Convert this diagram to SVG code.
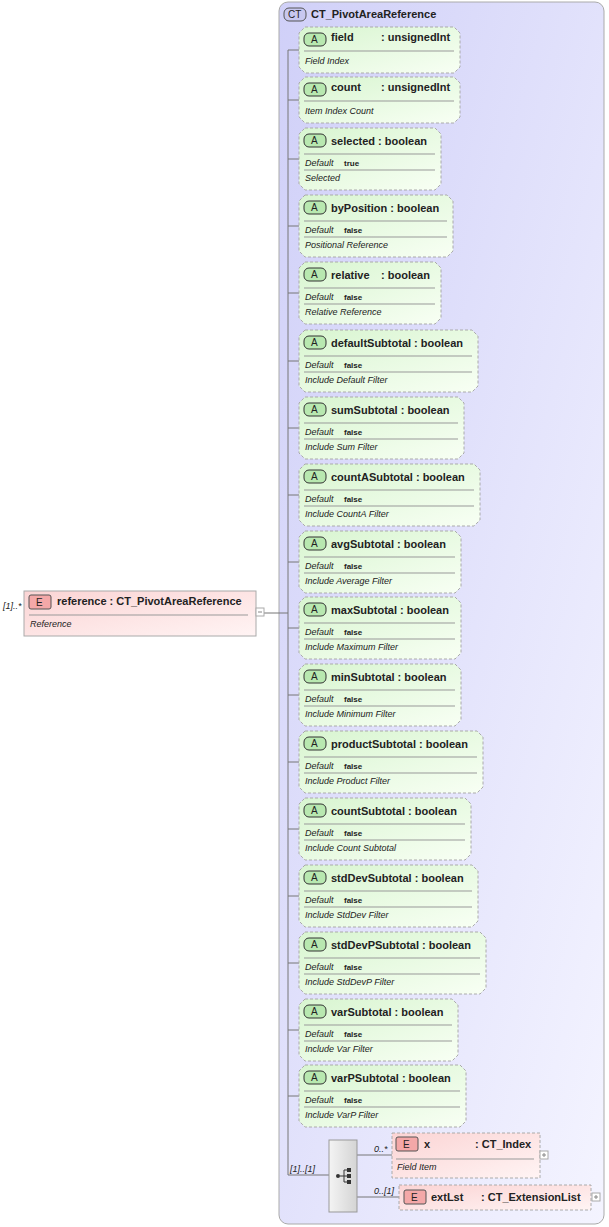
<svg xmlns="http://www.w3.org/2000/svg" width="609" height="1227" viewBox="0 0 609 1227">
<defs>
<linearGradient id="ga" x1="0" y1="0" x2="1" y2="1"><stop offset="0" stop-color="#d8f5d0"/><stop offset="1" stop-color="#f8fff4"/></linearGradient>
<linearGradient id="ge" x1="0" y1="0" x2="1" y2="1"><stop offset="0" stop-color="#fbd4d4"/><stop offset="1" stop-color="#fff4f4"/></linearGradient>
<linearGradient id="gc" x1="0" y1="0" x2="1" y2="1"><stop offset="0" stop-color="#d0d0f8"/><stop offset="1" stop-color="#f4f4ff"/></linearGradient>
<linearGradient id="gs" x1="0" y1="0" x2="1" y2="0"><stop offset="0" stop-color="#f4f4f4"/><stop offset="1" stop-color="#d4d4d4"/></linearGradient>
<style>
text{font-family:"Liberation Sans",Arial,sans-serif;fill:#222}
.t{font-size:11px;font-weight:bold}
.d{font-size:9px;font-style:italic}
.v{font-size:8px;font-weight:bold}
.at{fill:url(#ga);stroke:#aaa;stroke-dasharray:3,2}
.el{fill:url(#ge);stroke:#aaa}
.eld{fill:url(#ge);stroke:#aaa;stroke-dasharray:3,2}
.sep{stroke:#999}
.ab{fill:#b8e8b0;stroke:#333}
.eb{fill:#f4a8a8;stroke:#555}
.ln{stroke:#777;fill:none}
.pl{fill:#fff;stroke:#aaa}
</style>
</defs>
<g id="ct">
<rect x="279" y="2" width="325" height="1222" rx="9" fill="url(#gc)" stroke="#aaa"/>
<rect x="284" y="8" width="22" height="13" rx="5" fill="#c8c8f0" stroke="#555"/>
<text x="288" y="18" style="font-size:10px">CT</text>
<text x="311" y="18" class="t">CT_PivotAreaReference</text>
</g>
<g id="connectors">
<line class="ln" x1="288" y1="50" x2="288" y2="1175"/>
<line class="ln" x1="263" y1="613" x2="288" y2="613"/>
<line class="ln" x1="288" y1="50" x2="299" y2="50"/>
<line class="ln" x1="288" y1="100" x2="299" y2="100"/>
<line class="ln" x1="288" y1="159" x2="299" y2="159"/>
<line class="ln" x1="288" y1="226" x2="299" y2="226"/>
<line class="ln" x1="288" y1="293" x2="299" y2="293"/>
<line class="ln" x1="288" y1="361" x2="299" y2="361"/>
<line class="ln" x1="288" y1="428" x2="299" y2="428"/>
<line class="ln" x1="288" y1="495" x2="299" y2="495"/>
<line class="ln" x1="288" y1="562" x2="299" y2="562"/>
<line class="ln" x1="288" y1="628" x2="299" y2="628"/>
<line class="ln" x1="288" y1="695" x2="299" y2="695"/>
<line class="ln" x1="288" y1="762" x2="299" y2="762"/>
<line class="ln" x1="288" y1="829" x2="299" y2="829"/>
<line class="ln" x1="288" y1="896" x2="299" y2="896"/>
<line class="ln" x1="288" y1="963" x2="299" y2="963"/>
<line class="ln" x1="288" y1="1030" x2="299" y2="1030"/>
<line class="ln" x1="288" y1="1096" x2="299" y2="1096"/>
<line class="ln" x1="288" y1="1175" x2="329" y2="1175"/>
<polyline class="ln" points="357,1155 374,1155 392,1155"/>
<polyline class="ln" points="357,1197 399,1197"/>
<text x="290" y="1172" class="d">[1]..[1]</text>
<text x="374" y="1152" class="d">0..*</text>
<text x="374" y="1194" class="d">0..[1]</text>
</g>
<g id="reference">
<text x="3" y="609" class="d">[1]..*</text>
<rect class="el" x="24" y="591" width="232" height="45"/>
<rect class="eb" x="29" y="595" width="22" height="14" rx="2"/>
<text x="36" y="606" style="font-size:10px">E</text>
<text x="57" y="605" class="t">reference : CT_PivotAreaReference</text>
<line class="sep" x1="29" y1="615" x2="248" y2="615"/>
<text x="30" y="627" class="d">Reference</text>
<rect class="pl" x="256" y="608" width="8" height="8"/>
<line x1="258" y1="612" x2="262" y2="612" stroke="#888"/>
</g>
<g id="field">
<path class="at" d="M305,27H454L460,33V67L454,73H305L299,67V33Z"/>
<rect class="ab" x="304" y="33" width="22" height="13" rx="5"/><text x="311" y="43" style="font-size:10px">A</text>
<text x="331" y="41" class="t">field</text><text x="381" y="41" class="t">: unsignedInt</text>
<line class="sep" x1="304" y1="51" x2="454" y2="51"/>
<text x="305" y="64" class="d">Field Index</text>
</g>
<g id="count">
<path class="at" d="M305,77H454L460,83V117L454,123H305L299,117V83Z"/>
<rect class="ab" x="304" y="83" width="22" height="13" rx="5"/><text x="311" y="93" style="font-size:10px">A</text>
<text x="331" y="91" class="t">count</text><text x="381" y="91" class="t">: unsignedInt</text>
<line class="sep" x1="304" y1="101" x2="454" y2="101"/>
<text x="305" y="114" class="d">Item Index Count</text>
</g>
<g id="selected">
<path class="at" d="M305,128H435L441,134V184L435,190H305L299,184V134Z"/>
<rect class="ab" x="304" y="134" width="22" height="13" rx="5"/><text x="311" y="144" style="font-size:10px">A</text>
<text x="331" y="145" class="t">selected : boolean</text>
<line class="sep" x1="304" y1="154" x2="435" y2="154"/>
<text x="305" y="166" class="d">Default</text><text x="344" y="166" class="v">true</text>
<line class="sep" x1="304" y1="170" x2="435" y2="170"/>
<text x="305" y="181" class="d">Selected</text>
</g>
<g id="byPosition">
<path class="at" d="M305,195H447L453,201V251L447,257H305L299,251V201Z"/>
<rect class="ab" x="304" y="201" width="22" height="13" rx="5"/><text x="311" y="211" style="font-size:10px">A</text>
<text x="331" y="212" class="t">byPosition : boolean</text>
<line class="sep" x1="304" y1="221" x2="447" y2="221"/>
<text x="305" y="233" class="d">Default</text><text x="344" y="233" class="v">false</text>
<line class="sep" x1="304" y1="237" x2="447" y2="237"/>
<text x="305" y="248" class="d">Positional Reference</text>
</g>
<g id="relative">
<path class="at" d="M305,262H435L441,268V318L435,324H305L299,318V268Z"/>
<rect class="ab" x="304" y="268" width="22" height="13" rx="5"/><text x="311" y="278" style="font-size:10px">A</text>
<text x="331" y="279" class="t">relative</text><text x="381" y="279" class="t">: boolean</text>
<line class="sep" x1="304" y1="288" x2="435" y2="288"/>
<text x="305" y="300" class="d">Default</text><text x="344" y="300" class="v">false</text>
<line class="sep" x1="304" y1="304" x2="435" y2="304"/>
<text x="305" y="315" class="d">Relative Reference</text>
</g>
<g id="defaultSubtotal">
<path class="at" d="M305,330H472L478,336V386L472,392H305L299,386V336Z"/>
<rect class="ab" x="304" y="336" width="22" height="13" rx="5"/><text x="311" y="346" style="font-size:10px">A</text>
<text x="331" y="347" class="t">defaultSubtotal : boolean</text>
<line class="sep" x1="304" y1="356" x2="472" y2="356"/>
<text x="305" y="368" class="d">Default</text><text x="344" y="368" class="v">false</text>
<line class="sep" x1="304" y1="372" x2="472" y2="372"/>
<text x="305" y="383" class="d">Include Default Filter</text>
</g>
<g id="sumSubtotal">
<path class="at" d="M305,397H458L464,403V453L458,459H305L299,453V403Z"/>
<rect class="ab" x="304" y="403" width="22" height="13" rx="5"/><text x="311" y="413" style="font-size:10px">A</text>
<text x="331" y="414" class="t">sumSubtotal : boolean</text>
<line class="sep" x1="304" y1="423" x2="458" y2="423"/>
<text x="305" y="435" class="d">Default</text><text x="344" y="435" class="v">false</text>
<line class="sep" x1="304" y1="439" x2="458" y2="439"/>
<text x="305" y="450" class="d">Include Sum Filter</text>
</g>
<g id="countASubtotal">
<path class="at" d="M305,464H474L480,470V520L474,526H305L299,520V470Z"/>
<rect class="ab" x="304" y="470" width="22" height="13" rx="5"/><text x="311" y="480" style="font-size:10px">A</text>
<text x="331" y="481" class="t">countASubtotal : boolean</text>
<line class="sep" x1="304" y1="490" x2="474" y2="490"/>
<text x="305" y="502" class="d">Default</text><text x="344" y="502" class="v">false</text>
<line class="sep" x1="304" y1="506" x2="474" y2="506"/>
<text x="305" y="517" class="d">Include CountA Filter</text>
</g>
<g id="avgSubtotal">
<path class="at" d="M305,531H455L461,537V587L455,593H305L299,587V537Z"/>
<rect class="ab" x="304" y="537" width="22" height="13" rx="5"/><text x="311" y="547" style="font-size:10px">A</text>
<text x="331" y="548" class="t">avgSubtotal : boolean</text>
<line class="sep" x1="304" y1="557" x2="455" y2="557"/>
<text x="305" y="569" class="d">Default</text><text x="344" y="569" class="v">false</text>
<line class="sep" x1="304" y1="573" x2="455" y2="573"/>
<text x="305" y="584" class="d">Include Average Filter</text>
</g>
<g id="maxSubtotal">
<path class="at" d="M305,597H455L461,603V653L455,659H305L299,653V603Z"/>
<rect class="ab" x="304" y="603" width="22" height="13" rx="5"/><text x="311" y="613" style="font-size:10px">A</text>
<text x="331" y="614" class="t">maxSubtotal : boolean</text>
<line class="sep" x1="304" y1="623" x2="455" y2="623"/>
<text x="305" y="635" class="d">Default</text><text x="344" y="635" class="v">false</text>
<line class="sep" x1="304" y1="639" x2="455" y2="639"/>
<text x="305" y="650" class="d">Include Maximum Filter</text>
</g>
<g id="minSubtotal">
<path class="at" d="M305,664H455L461,670V720L455,726H305L299,720V670Z"/>
<rect class="ab" x="304" y="670" width="22" height="13" rx="5"/><text x="311" y="680" style="font-size:10px">A</text>
<text x="331" y="681" class="t">minSubtotal : boolean</text>
<line class="sep" x1="304" y1="690" x2="455" y2="690"/>
<text x="305" y="702" class="d">Default</text><text x="344" y="702" class="v">false</text>
<line class="sep" x1="304" y1="706" x2="455" y2="706"/>
<text x="305" y="717" class="d">Include Minimum Filter</text>
</g>
<g id="productSubtotal">
<path class="at" d="M305,731H477L483,737V787L477,793H305L299,787V737Z"/>
<rect class="ab" x="304" y="737" width="22" height="13" rx="5"/><text x="311" y="747" style="font-size:10px">A</text>
<text x="331" y="748" class="t">productSubtotal : boolean</text>
<line class="sep" x1="304" y1="757" x2="477" y2="757"/>
<text x="305" y="769" class="d">Default</text><text x="344" y="769" class="v">false</text>
<line class="sep" x1="304" y1="773" x2="477" y2="773"/>
<text x="305" y="784" class="d">Include Product Filter</text>
</g>
<g id="countSubtotal">
<path class="at" d="M305,798H465L471,804V854L465,860H305L299,854V804Z"/>
<rect class="ab" x="304" y="804" width="22" height="13" rx="5"/><text x="311" y="814" style="font-size:10px">A</text>
<text x="331" y="815" class="t">countSubtotal : boolean</text>
<line class="sep" x1="304" y1="824" x2="465" y2="824"/>
<text x="305" y="836" class="d">Default</text><text x="344" y="836" class="v">false</text>
<line class="sep" x1="304" y1="840" x2="465" y2="840"/>
<text x="305" y="851" class="d">Include Count Subtotal</text>
</g>
<g id="stdDevSubtotal">
<path class="at" d="M305,865H472L478,871V921L472,927H305L299,921V871Z"/>
<rect class="ab" x="304" y="871" width="22" height="13" rx="5"/><text x="311" y="881" style="font-size:10px">A</text>
<text x="331" y="882" class="t">stdDevSubtotal : boolean</text>
<line class="sep" x1="304" y1="891" x2="472" y2="891"/>
<text x="305" y="903" class="d">Default</text><text x="344" y="903" class="v">false</text>
<line class="sep" x1="304" y1="907" x2="472" y2="907"/>
<text x="305" y="918" class="d">Include StdDev Filter</text>
</g>
<g id="stdDevPSubtotal">
<path class="at" d="M305,932H480L486,938V988L480,994H305L299,988V938Z"/>
<rect class="ab" x="304" y="938" width="22" height="13" rx="5"/><text x="311" y="948" style="font-size:10px">A</text>
<text x="331" y="949" class="t">stdDevPSubtotal : boolean</text>
<line class="sep" x1="304" y1="958" x2="480" y2="958"/>
<text x="305" y="970" class="d">Default</text><text x="344" y="970" class="v">false</text>
<line class="sep" x1="304" y1="974" x2="480" y2="974"/>
<text x="305" y="985" class="d">Include StdDevP Filter</text>
</g>
<g id="varSubtotal">
<path class="at" d="M305,999H452L458,1005V1055L452,1061H305L299,1055V1005Z"/>
<rect class="ab" x="304" y="1005" width="22" height="13" rx="5"/><text x="311" y="1015" style="font-size:10px">A</text>
<text x="331" y="1016" class="t">varSubtotal : boolean</text>
<line class="sep" x1="304" y1="1025" x2="452" y2="1025"/>
<text x="305" y="1037" class="d">Default</text><text x="344" y="1037" class="v">false</text>
<line class="sep" x1="304" y1="1041" x2="452" y2="1041"/>
<text x="305" y="1052" class="d">Include Var Filter</text>
</g>
<g id="varPSubtotal">
<path class="at" d="M305,1065H460L466,1071V1121L460,1127H305L299,1121V1071Z"/>
<rect class="ab" x="304" y="1071" width="22" height="13" rx="5"/><text x="311" y="1081" style="font-size:10px">A</text>
<text x="331" y="1082" class="t">varPSubtotal : boolean</text>
<line class="sep" x1="304" y1="1091" x2="460" y2="1091"/>
<text x="305" y="1103" class="d">Default</text><text x="344" y="1103" class="v">false</text>
<line class="sep" x1="304" y1="1107" x2="460" y2="1107"/>
<text x="305" y="1118" class="d">Include VarP Filter</text>
</g>
<g id="sequence">
<rect x="329" y="1140" width="28" height="72" fill="url(#gs)" stroke="#999"/>
<circle cx="338" cy="1176" r="2" fill="#333"/>
<line x1="340" y1="1176" x2="344" y2="1176" stroke="#333"/>
<line x1="344" y1="1170" x2="344" y2="1182" stroke="#333"/>
<line x1="344" y1="1170" x2="348" y2="1170" stroke="#333"/>
<line x1="344" y1="1176" x2="348" y2="1176" stroke="#333"/>
<line x1="344" y1="1182" x2="348" y2="1182" stroke="#333"/>
<rect x="347" y="1168" width="4" height="4" fill="#333"/>
<rect x="347" y="1174" width="4" height="4" fill="#333"/>
<rect x="347" y="1180" width="4" height="4" fill="#333"/>
</g>
<g id="x">
<rect class="eld" x="392" y="1133" width="148" height="45"/>
<rect class="eb" x="396" y="1137" width="22" height="14" rx="2"/><text x="403" y="1148" style="font-size:10px">E</text>
<text x="424" y="1148" class="t">x</text><text x="475" y="1148" class="t">: CT_Index</text>
<line class="sep" x1="396" y1="1159" x2="534" y2="1159"/>
<text x="397" y="1170" class="d">Field Item</text>
<rect class="pl" x="540" y="1151" width="8" height="8"/>
<path d="M542,1155H546M544,1153V1157" stroke="#888"/>
</g>
<g id="extLst">
<rect class="eld" x="399" y="1185" width="192" height="25"/>
<rect class="eb" x="404" y="1190" width="22" height="14" rx="2"/><text x="411" y="1201" style="font-size:10px">E</text>
<text x="431" y="1201" class="t">extLst</text><text x="481" y="1201" class="t">: CT_ExtensionList</text>
<rect class="pl" x="592" y="1193" width="8" height="8"/>
<path d="M594,1197H598M596,1195V1199" stroke="#888"/>
</g>
</svg>
